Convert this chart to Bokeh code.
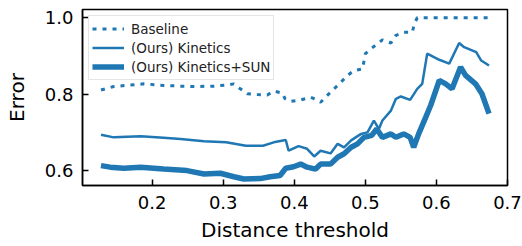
from bokeh.plotting import figure
from bokeh.models import FixedTicker, Range1d, Legend, LegendItem, NumeralTickFormatter
from bokeh.embed import file_html
from bokeh.resources import INLINE

baseline_x = [0.128, 0.146, 0.169, 0.188, 0.216, 0.240, 0.263, 0.287, 0.306, 0.315, 0.324, 0.334, 0.348,
              0.362, 0.371, 0.383, 0.387, 0.395, 0.409, 0.423, 0.432, 0.437, 0.446, 0.461, 0.475, 0.484,
              0.496, 0.500, 0.508, 0.517, 0.524, 0.536, 0.543, 0.554, 0.566, 0.569, 0.573, 0.672]
baseline_y = [0.811, 0.820, 0.824, 0.827, 0.823, 0.821, 0.820, 0.821, 0.824, 0.827, 0.814, 0.801, 0.799,
              0.798, 0.808, 0.803, 0.788, 0.781, 0.785, 0.792, 0.785, 0.779, 0.796, 0.823, 0.849, 0.862,
              0.866, 0.906, 0.919, 0.932, 0.942, 0.934, 0.954, 0.962, 0.962, 0.984, 1.0, 1.0]

kin_x = [0.128, 0.146, 0.184, 0.216, 0.240, 0.273, 0.304, 0.332, 0.356, 0.371, 0.388, 0.392, 0.406, 0.418,
         0.428, 0.437, 0.451, 0.461, 0.470, 0.480, 0.494, 0.503, 0.512, 0.519, 0.524, 0.536, 0.543, 0.550,
         0.563, 0.573, 0.580, 0.587, 0.604, 0.618, 0.632, 0.639, 0.656, 0.663, 0.674]
kin_y = [0.694, 0.687, 0.690, 0.686, 0.683, 0.677, 0.674, 0.665, 0.665, 0.674, 0.680, 0.652, 0.664, 0.657,
         0.637, 0.652, 0.645, 0.670, 0.661, 0.679, 0.696, 0.700, 0.731, 0.709, 0.731, 0.757, 0.788, 0.794,
         0.785, 0.814, 0.827, 0.906, 0.890, 0.880, 0.934, 0.923, 0.910, 0.888, 0.875]

sun_x = [0.128, 0.141, 0.160, 0.184, 0.216, 0.249, 0.273, 0.296, 0.315, 0.329, 0.352, 0.366, 0.380, 0.388,
         0.399, 0.409, 0.418, 0.430, 0.437, 0.451, 0.461, 0.470, 0.480, 0.489, 0.498, 0.509, 0.516, 0.524,
         0.536, 0.543, 0.554, 0.563, 0.568, 0.575, 0.585, 0.592, 0.604, 0.613, 0.622, 0.634, 0.641, 0.655,
         0.664, 0.674]
sun_y = [0.613, 0.609, 0.606, 0.609, 0.604, 0.600, 0.591, 0.593, 0.584, 0.578, 0.579, 0.584, 0.587, 0.606,
         0.610, 0.617, 0.609, 0.604, 0.617, 0.617, 0.635, 0.644, 0.661, 0.670, 0.687, 0.692, 0.709, 0.687,
         0.696, 0.687, 0.696, 0.687, 0.661, 0.696, 0.740, 0.771, 0.836, 0.827, 0.814, 0.871, 0.849, 0.827,
         0.801, 0.749]

x_ticks = [0.2, 0.3, 0.4, 0.5, 0.6, 0.7]
y_ticks = [0.6, 0.8, 1.0]

C = "#1f77b4"
FONT = "DejaVu Sans"

p = figure(width=522, height=246, output_backend="svg", toolbar_location=None,
           x_range=Range1d(0.102, 0.7), y_range=Range1d(0.561, 1.0216),
           x_axis_label="Distance threshold", y_axis_label="Error")
p.min_border_left = 82
p.min_border_right = 15
p.min_border_top = 9
p.min_border_bottom = 61

r1 = p.line(baseline_x, baseline_y, color=C, line_width=3, line_dash="4 6")
r2 = p.line(kin_x, kin_y, color=C, line_width=2.5)
r3 = p.line(sun_x, sun_y, color=C, line_width=5.5)

legend = Legend(items=[LegendItem(label="Baseline", renderers=[r1]),
                       LegendItem(label="(Ours) Kinetics", renderers=[r2]),
                       LegendItem(label="(Ours) Kinetics+SUN", renderers=[r3])],
                location="top_left")
legend.label_text_font = FONT
legend.label_text_font_size = "13.5px"
legend.label_text_color = "#222222"
legend.border_line_color = "#cccccc"
legend.border_line_width = 1.5
legend.background_fill_alpha = 0.8
legend.margin = 6
legend.padding = 3
legend.spacing = 0
legend.glyph_width = 32
legend.glyph_height = 19
legend.label_height = 19
legend.label_standoff = 7
p.add_layout(legend)

p.grid.visible = False
p.outline_line_color = "black"
p.outline_line_width = 1.5

for ax, ticks in ((p.xaxis, x_ticks), (p.yaxis, y_ticks)):
    ax.ticker = FixedTicker(ticks=ticks)
    ax.formatter = NumeralTickFormatter(format="0.0")
    ax.minor_tick_line_color = None
    ax.major_tick_in = 6
    ax.major_tick_out = 0
    ax.major_tick_line_width = 1.5
    ax.axis_line_width = 1.5
    ax.major_label_text_font = FONT
    ax.major_label_text_font_size = "18px"
    ax.major_label_text_color = "black"
    ax.axis_label_text_font = FONT
    ax.axis_label_text_font_size = "20px"
    ax.axis_label_text_font_style = "normal"
    ax.axis_label_text_color = "black"

p.xaxis.major_label_standoff = 10
p.yaxis.major_label_standoff = 9
p.xaxis.axis_label_standoff = 6
p.yaxis.axis_label_standoff = 13

open("out.html", "w").write(file_html(p, INLINE))
